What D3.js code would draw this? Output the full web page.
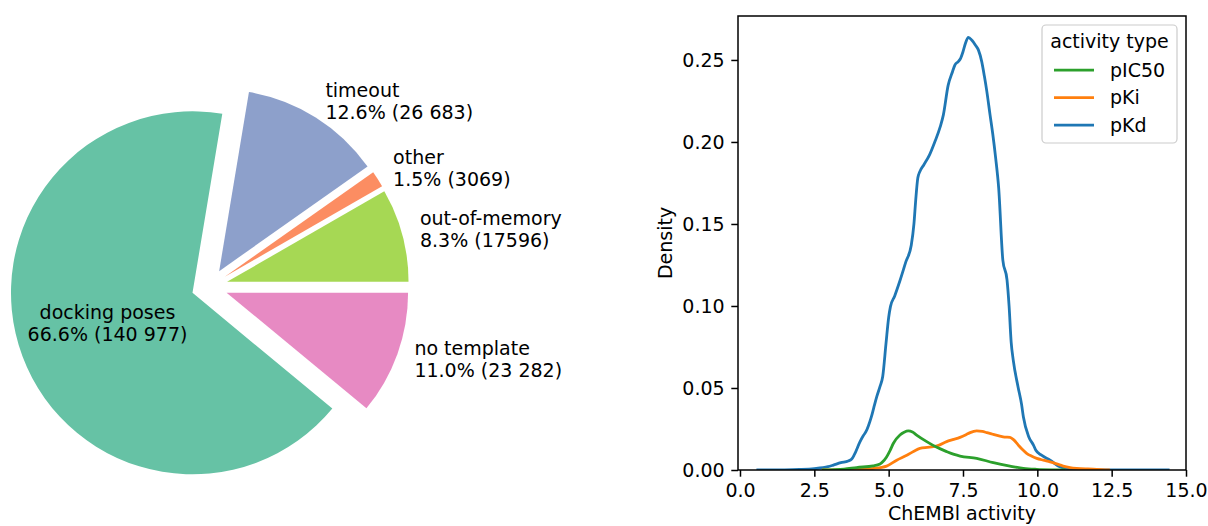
<!DOCTYPE html>
<html>
<head>
<meta charset="utf-8">
<script src="https://cdn.jsdelivr.net/npm/d3@7"></script>
<style>
  html, body { margin: 0; padding: 0; background: #fff; }
  svg text { font-family: "DejaVu Sans", sans-serif; }
</style>
</head>
<body>
<svg id="chart" width="1208" height="526"></svg>
<script>
// ---- Pie: outcome of the docking runs ----
const sliceNames = ["out-of-memory", "other", "timeout", "docking poses", "no template"];
const sliceCounts = [17596, 3069, 26683, 140977, 23282];
const sliceCountText = ["17596", "3069", "26 683", "140 977", "23 282"];
const sliceColors = ["#a6d854", "#fc8d62", "#8da0cb", "#66c2a5", "#e78ac3"];

// ---- KDE curves of ChEMBL activity per activity type ----
const seriesNames = ["pIC50", "pKi", "pKd"];
const seriesColors = ["#2ca02c", "#ff7f0e", "#1f77b4"];

const pIC50X = [2.8, 3.5, 3.92, 4.48, 4.71, 4.77, 4.93, 5.05, 5.16, 5.38, 5.52, 5.66, 5.8, 5.94, 6.28, 6.62, 6.95, 7.2, 7.4, 7.96, 8.52, 9.08, 9.53, 9.98, 10.5, 10.9];
const pIC50Y = [0, 0.0005, 0.0015, 0.0025, 0.0037, 0.0045, 0.008, 0.012, 0.0163, 0.0213, 0.023, 0.0238, 0.0232, 0.0213, 0.0173, 0.0138, 0.0112, 0.0095, 0.0085, 0.0071, 0.0045, 0.0024, 0.001, 0.0004, 0.0001, 0];

const pKiX = [2.8, 3.5, 4.0, 4.5, 4.93, 5.27, 5.61, 5.85, 6.05, 6.3, 6.5, 6.7, 6.95, 7.15, 7.4, 7.6, 7.74, 7.96, 8.15, 8.3, 8.5, 8.74, 8.9, 9.08, 9.2, 9.36, 9.5, 9.64, 9.8, 9.98, 10.2, 10.43, 10.65, 10.87, 11.1, 11.32, 11.7, 12.0, 12.4];
const pKiY = [0, 0.0002, 0.0005, 0.001, 0.0024, 0.006, 0.009, 0.0115, 0.0132, 0.0138, 0.0142, 0.0152, 0.0173, 0.0185, 0.0199, 0.0215, 0.0228, 0.0238, 0.0235, 0.0228, 0.0218, 0.0207, 0.0201, 0.0199, 0.0185, 0.0152, 0.0125, 0.0102, 0.0085, 0.0071, 0.006, 0.005, 0.0037, 0.0024, 0.0015, 0.001, 0.0006, 0.0004, 0];

const pKdX = [0.6, 1.5, 2.0, 2.5, 2.96, 3.14, 3.39, 3.64, 3.75, 3.85, 4.03, 4.15, 4.24, 4.32, 4.42, 4.5, 4.6, 4.71, 4.8, 4.91, 5.0, 5.06, 5.2, 5.39, 5.58, 5.76, 5.85, 5.91, 5.98, 6.05, 6.18, 6.37, 6.55, 6.73, 6.84, 7.0, 7.15, 7.23, 7.34, 7.42, 7.5, 7.58, 7.68, 7.8, 7.92, 8.02, 8.13, 8.22, 8.3, 8.41, 8.5, 8.6, 8.7, 8.84, 8.98, 9.05, 9.12, 9.19, 9.35, 9.47, 9.53, 9.71, 9.87, 9.95, 10.14, 10.43, 10.75, 11.23, 12.0, 13.0, 14.4];
const pKdY = [0, 0.0001, 0.0003, 0.0008, 0.002, 0.003, 0.0045, 0.0055, 0.0065, 0.0095, 0.017, 0.021, 0.0235, 0.027, 0.0325, 0.038, 0.0447, 0.051, 0.057, 0.077, 0.093, 0.0996, 0.106, 0.116, 0.127, 0.137, 0.15, 0.1646, 0.178, 0.182, 0.186, 0.192, 0.2, 0.209, 0.2165, 0.2345, 0.243, 0.247, 0.249, 0.251, 0.255, 0.26, 0.2638, 0.262, 0.259, 0.256, 0.249, 0.24, 0.231, 0.2165, 0.205, 0.19, 0.172, 0.128, 0.116, 0.1, 0.078, 0.067, 0.0508, 0.04, 0.0325, 0.0203, 0.0152, 0.012, 0.009, 0.006, 0.002, 0.0004, 0.0001, 0.00003, 0];

const xTicks = [0, 2.5, 5, 7.5, 10, 12.5, 15];
const yTicks = [0, 0.05, 0.10, 0.15, 0.20, 0.25];

const svg = d3.select("#chart");
const FONT = 19;

// ================= pie =================
const pieCx = 209.5, pieCy = 286.5, pieR = 181.5, explode = 0.1;
const total = d3.sum(sliceCounts);

// counter-clockwise from 3 o'clock, in d3's clockwise-from-12 angle system
const pie = d3.pie().sort(null).value(d => d)
  .startAngle(Math.PI / 2).endAngle(Math.PI / 2 - 2 * Math.PI);
const arcs = pie(sliceCounts);
const arcGen = d3.arc().innerRadius(0).outerRadius(pieR);
const largest = d3.maxIndex(sliceCounts);

const pieG = svg.append("g").attr("transform", `translate(${pieCx},${pieCy})`);

arcs.forEach((a, i) => {
  const mid = (a.startAngle + a.endAngle) / 2;
  const ux = Math.sin(mid), uy = -Math.cos(mid);
  const ox = ux * explode * pieR, oy = uy * explode * pieR;
  const g = pieG.append("g").attr("transform", `translate(${ox},${oy})`);
  g.append("path").attr("d", arcGen(a)).attr("fill", sliceColors[i]);

  const inside = i === largest;
  const dist = (inside ? 0.5 : 1.1) * pieR;
  const lx = ux * dist, ly = uy * dist;
  const pct = (100 * sliceCounts[i] / total).toFixed(1) + "%";
  const t = g.append("text")
    .attr("x", lx).attr("y", ly - 5.5)
    .attr("font-size", FONT)
    .attr("fill", "#000")
    .attr("text-anchor", inside ? "middle" : (lx >= 0 ? "start" : "end"));
  t.append("tspan").attr("x", lx).text(sliceNames[i]);
  t.append("tspan").attr("x", lx).attr("dy", 22).text(`${pct} (${sliceCountText[i]})`);
});

// ================= KDE plot =================
const plotL = 738, plotR = 1186, plotT = 16, plotB = 470;
const x = d3.scaleLinear().domain([-0.067, 15.0]).range([plotL, plotR]);
const y = d3.scaleLinear().domain([0, 0.2768]).range([plotB, plotT]);

const tickLen = 6.7, tickPad = 6.7, lw = 1.5;

const xAxis = svg.append("g")
  .attr("transform", `translate(0,${plotB})`)
  .call(d3.axisBottom(x).tickValues(xTicks).tickFormat(d3.format(".1f"))
    .tickSize(tickLen).tickPadding(tickPad));
const yAxis = svg.append("g")
  .attr("transform", `translate(${plotL},0)`)
  .call(d3.axisLeft(y).tickValues(yTicks).tickFormat(d3.format(".2f"))
    .tickSize(tickLen).tickPadding(tickPad));
[xAxis, yAxis].forEach(ax => {
  ax.select(".domain").remove();
  ax.selectAll(".tick line").attr("stroke", "#000").attr("stroke-width", lw);
  ax.selectAll(".tick text").attr("font-size", FONT).attr("fill", "#000")
    .attr("font-family", "DejaVu Sans, sans-serif");
});

// curves, clipped to the axes
svg.append("clipPath").attr("id", "plotClip")
  .append("rect").attr("x", plotL).attr("y", plotT)
  .attr("width", plotR - plotL).attr("height", plotB - plotT);

const line = d3.line()
  .x(d => x(d[0])).y(d => y(d[1]))
  .curve(d3.curveMonotoneX);

const seriesData = [
  d3.zip(pIC50X, pIC50Y),
  d3.zip(pKiX, pKiY),
  d3.zip(pKdX, pKdY)
];
const plotG = svg.append("g").attr("clip-path", "url(#plotClip)");
[2, 1, 0].forEach(i => {
  plotG.append("path")
    .attr("d", line(seriesData[i]))
    .attr("fill", "none")
    .attr("stroke", seriesColors[i])
    .attr("stroke-width", 2.8)
    .attr("stroke-linejoin", "round")
    .attr("stroke-linecap", "square");
});

// spines
svg.append("rect")
  .attr("x", plotL).attr("y", plotT)
  .attr("width", plotR - plotL).attr("height", plotB - plotT)
  .attr("fill", "none").attr("stroke", "#000").attr("stroke-width", lw);

// axis labels
svg.append("text")
  .attr("x", (plotL + plotR) / 2).attr("y", 520)
  .attr("text-anchor", "middle").attr("font-size", FONT)
  .text("ChEMBl activity");
svg.append("text")
  .attr("transform", `translate(671.5,${(plotT + plotB) / 2}) rotate(-90)`)
  .attr("text-anchor", "middle").attr("font-size", FONT)
  .text("Density");

// legend
const lg = svg.append("g");
lg.append("rect")
  .attr("x", 1042).attr("y", 25).attr("width", 135).attr("height", 118)
  .attr("rx", 4).attr("ry", 4)
  .attr("fill", "#fff").attr("fill-opacity", 0.8)
  .attr("stroke", "#cccccc").attr("stroke-width", 1.2);
lg.append("text")
  .attr("x", 1109.5).attr("y", 47.5)
  .attr("text-anchor", "middle").attr("font-size", FONT)
  .text("activity type");
seriesNames.forEach((name, i) => {
  const by = 76.7 + i * 27.5;
  lg.append("line")
    .attr("x1", 1054).attr("x2", 1094)
    .attr("y1", by - 6.5).attr("y2", by - 6.5)
    .attr("stroke", seriesColors[i]).attr("stroke-width", 2.8);
  lg.append("text")
    .attr("x", 1110).attr("y", by)
    .attr("font-size", FONT)
    .text(name);
});
</script>
</body>
</html>
